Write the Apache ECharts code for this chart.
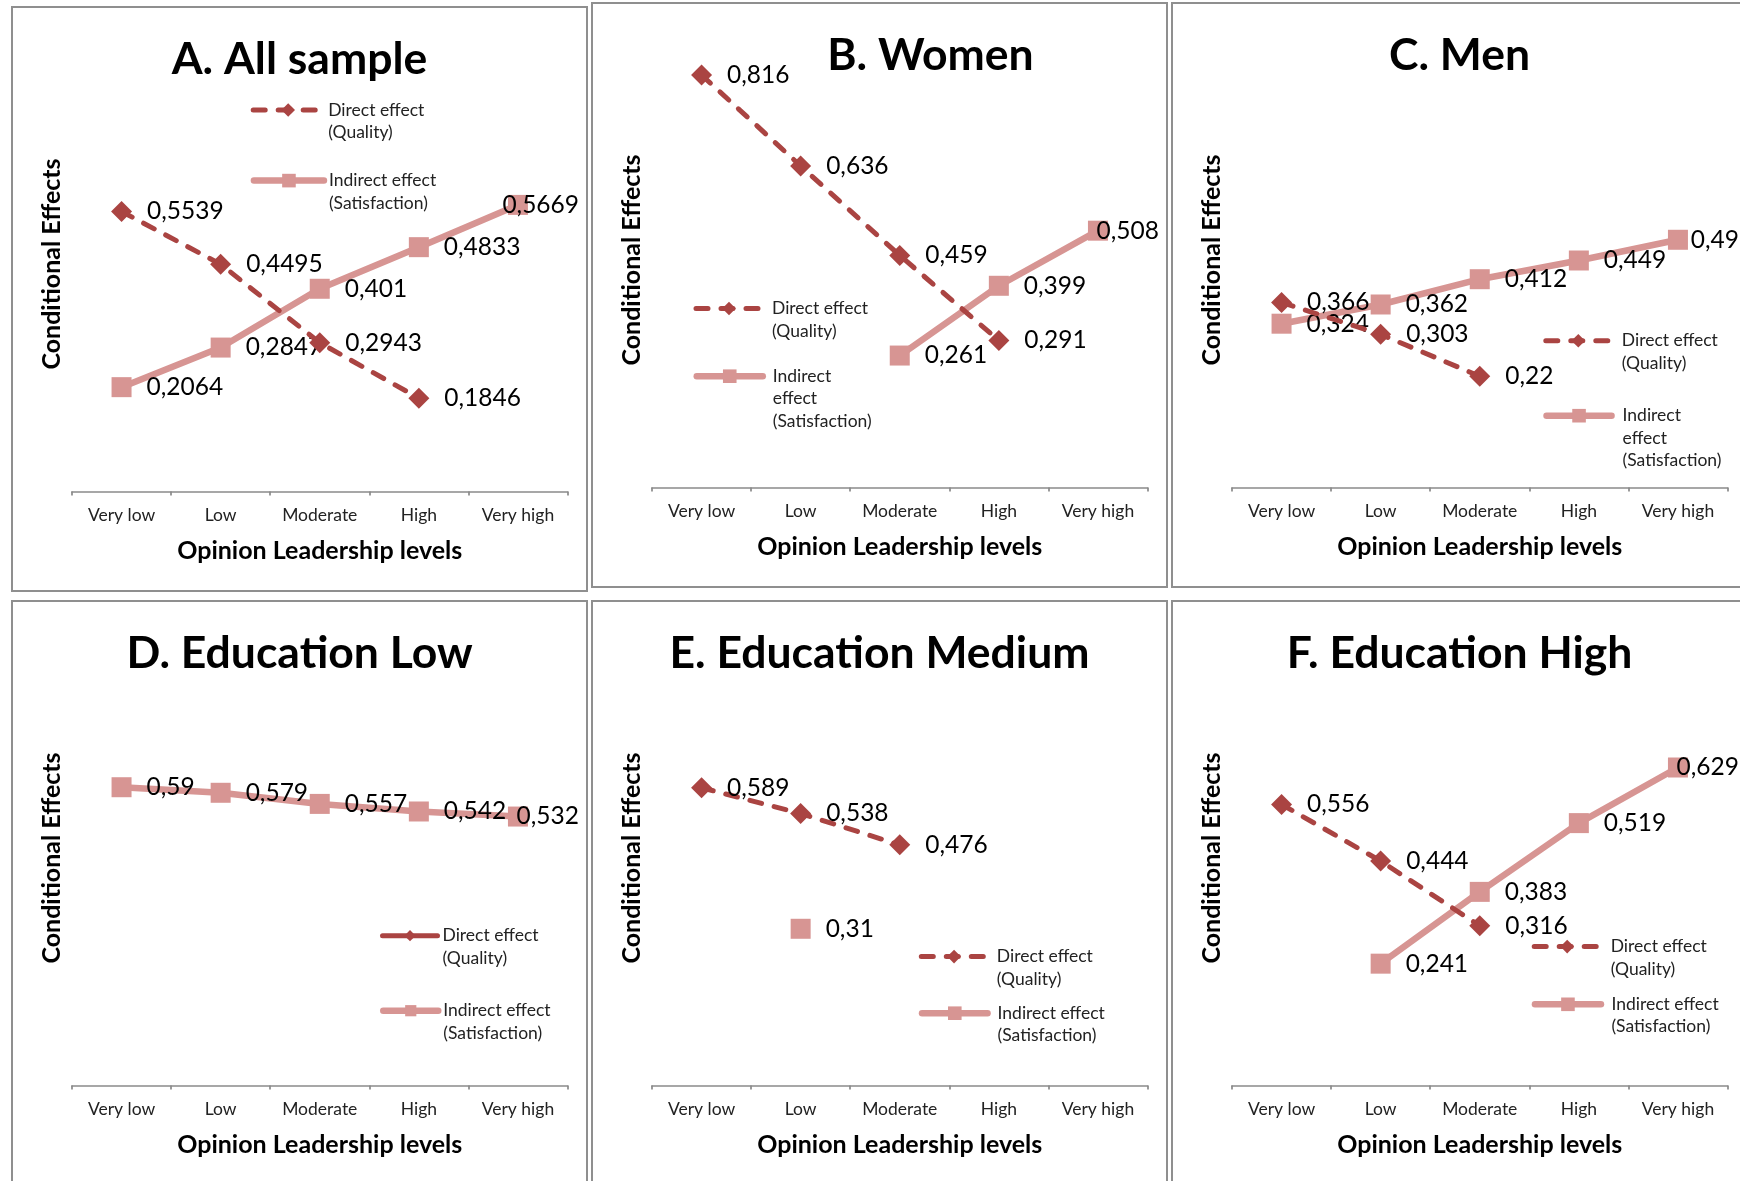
<!DOCTYPE html>
<html>
<head>
<meta charset="utf-8">
<script src="https://cdn.jsdelivr.net/npm/echarts@6/dist/echarts.min.js"></script>
<style>
html,body{margin:0;padding:0;width:1740px;height:1181px;overflow:hidden;background:#fff;}
.panel{position:absolute;box-sizing:border-box;border:2px solid #8f8f8f;background:#fff;}
</style>
</head>
<body>
<script>
// ---------------- DATA ----------------
var categories = ['Very low', 'Low', 'Moderate', 'High', 'Very high'];
var titles = ['A. All sample', 'B. Women', 'C. Men', 'D. Education Low', 'E. Education Medium', 'F. Education High'];
var xAxisName = 'Opinion Leadership levels';
var yAxisName = 'Conditional Effects';
var directName = 'Direct effect\n(Quality)';
var indirectName2 = 'Indirect effect\n(Satisfaction)';
var indirectName3 = 'Indirect\neffect\n(Satisfaction)';

var directA   = [0.5539, 0.4495, 0.2943, 0.1846, null];
var indirectA = [0.2064, 0.2847, 0.401, 0.4833, 0.5669];
var directB   = [0.816, 0.636, 0.459, 0.291, null];
var indirectB = [null, null, 0.261, 0.399, 0.508];
var directC   = [0.366, 0.303, 0.22, null, null];
var indirectC = [0.324, 0.362, 0.412, 0.449, 0.49];
var directD   = [null, null, null, null, null];
var indirectD = [0.59, 0.579, 0.557, 0.542, 0.532];
var directE   = [0.589, 0.538, 0.476, null, null];
var indirectE = [null, 0.31, null, null, null];
var directF   = [0.556, 0.444, 0.316, null, null];
var indirectF = [null, 0.241, 0.383, 0.519, 0.629];

var yMin = 0, yMax = 0.9;

// ---------------- LAYOUT / STYLE ----------------
var DIRECT_COLOR = '#AA4442';
var INDIRECT_COLOR = '#D79593';
var FONT = 'Lato, "Open Sans", sans-serif';
var PANEL_W = 577, PANEL_H = 586, BORDER = 2;
var W = PANEL_W - 2 * BORDER, H = PANEL_H - 2 * BORDER;
var LH = 22.5;
var DIRECT_W = 5, INDIRECT_W = 6.5;
var TITLE_SIZE = 44.5;

var panels = [
  {left: 11,   top: 6,   title: titles[0], titleX: 286.5, direct: directA, indirect: indirectA, indName: indirectName2, directSolid: false,
   leg: {x: 237.7, w: 70,   pad: 0,   ih: 17, dY: 102,   iY: 172.6}},
  {left: 591,  top: 2,   title: titles[1], titleX: 337.5, direct: directB, indirect: indirectB, indName: indirectName3, directSolid: false,
   leg: {x: 100.5, w: 66,   pad: 5,   ih: 17, dY: 304.5, iY: 372.2}},
  {left: 1171, top: 2,   title: titles[2], titleX: 286.5, direct: directC, indirect: indirectC, indName: indirectName3, directSolid: false,
   leg: {x: 370.3, w: 65,   pad: 6,   ih: 17, dY: 336.7, iY: 411.7}},
  {left: 11,   top: 600, title: titles[3], titleX: 286.5, direct: directD, indirect: indirectD, indName: indirectName2, directSolid: true,
   leg: {x: 367,   w: 55,   pad: 0,   ih: 14, dY: 333.7, iY: 408.7}},
  {left: 591,  top: 600, title: titles[4], titleX: 286.5, direct: directE, indirect: indirectE, indName: indirectName2, directSolid: false,
   leg: {x: 325.8, w: 65.5, pad: 5,   ih: 17, dY: 354.6, iY: 411.2}},
  {left: 1171, top: 600, title: titles[5], titleX: 286.5, direct: directF, indirect: indirectF, indName: indirectName2, directSolid: false,
   leg: {x: 358.7, w: 66,   pad: 5.5, ih: 17, dY: 344.6, iY: 402.3}}
];

function fmt(p) { return String(p.value).replace('.', ','); }
function fitLabel(p) {
  var r = p.labelRect;
  var lim = W - 7;
  var over = r.x + r.width - lim;
  return over > 0 ? {dx: -over} : {};
}
function lineCount(s) { return s.split('\n').length; }
function repeatNL(k) { var s = ''; for (var i = 0; i < k; i++) s += '\n'; return s; }

// first text line sits level with the legend key (Excel style)
function legendFor(name, cfg, iconY, lineW) {
  var n = lineCount(name);
  return {
    data: [{name: name}],
    formatter: function (nm) { return repeatNL(lineCount(nm) - 1) + nm; },
    orient: 'vertical',
    left: cfg.x,
    top: iconY - (2 * n - 1) * LH / 2,
    itemWidth: cfg.w,
    itemHeight: cfg.ih,
    padding: 0,
    selectedMode: false,
    lineStyle: {width: lineW},
    textStyle: {fontFamily: FONT, fontSize: 17.5, lineHeight: LH, color: '#222', padding: [0, 0, 0, cfg.pad]}
  };
}

var labelStyle = {show: true, position: 'right', distance: 15, formatter: fmt,
  fontFamily: FONT, fontSize: 24.5, color: '#000'};

panels.forEach(function (p, i) {
  var div = document.createElement('div');
  div.className = 'panel';
  div.style.left = p.left + 'px';
  div.style.top = p.top + 'px';
  div.style.width = PANEL_W + 'px';
  div.style.height = PANEL_H + 'px';
  document.body.appendChild(div);
  var chart = echarts.init(div, null, {renderer: 'canvas', width: W, height: H});
  var gridTop = 28.5, gridH = 455;
  chart.setOption({
    animation: false,
    backgroundColor: '#fff',
    title: {
      text: p.title, left: p.titleX, top: 51.5 - TITLE_SIZE / 2,
      textAlign: 'center',
      padding: 0,
      textStyle: {fontFamily: FONT, fontWeight: 'bold', fontSize: TITLE_SIZE, lineHeight: TITLE_SIZE, color: '#000'}
    },
    legend: [legendFor(directName, p.leg, p.leg.dY, DIRECT_W), legendFor(p.indName, p.leg, p.leg.iY, INDIRECT_W)],
    grid: {left: 59, top: gridTop, width: 495.5, height: gridH, containLabel: false},
    xAxis: {
      type: 'category', data: categories, boundaryGap: true,
      axisLine: {show: true, lineStyle: {color: '#8a8a8a', width: 1.7}},
      axisTick: {show: true, interval: 0, length: 4, lineStyle: {color: '#8a8a8a', width: 1.7}},
      axisLabel: {interval: 0, margin: 14.5, fontFamily: FONT, fontSize: 17.5, color: '#222'},
      splitLine: {show: false},
      name: xAxisName, nameLocation: 'middle', nameGap: 47,
      nameTextStyle: {fontFamily: FONT, fontWeight: 'bold', fontSize: 25, color: '#000'}
    },
    yAxis: {
      type: 'value', min: yMin, max: yMax,
      axisLine: {show: false}, axisTick: {show: false}, axisLabel: {show: false}, splitLine: {show: false},
      name: yAxisName, nameLocation: 'middle', nameGap: 7.5,
      nameTextStyle: {fontFamily: FONT, fontWeight: 'bold', fontSize: 25, color: '#000'}
    },
    series: [
      {
        name: p.indName, type: 'line', data: p.indirect, z: 2,
        symbol: 'rect', symbolSize: 20, showSymbol: true, showAllSymbol: true, connectNulls: false,
        itemStyle: {color: INDIRECT_COLOR},
        lineStyle: {color: INDIRECT_COLOR, width: INDIRECT_W, type: 'solid', cap: 'round'},
        label: labelStyle, labelLayout: fitLabel,
        emphasis: {disabled: true}
      },
      {
        name: directName, type: 'line', data: p.direct, z: 3,
        symbol: 'diamond', symbolSize: 21, showSymbol: true, showAllSymbol: true, connectNulls: false,
        itemStyle: {color: DIRECT_COLOR},
        lineStyle: {color: DIRECT_COLOR, width: DIRECT_W, type: p.directSolid ? 'solid' : [12, 13], cap: 'round'},
        label: labelStyle, labelLayout: fitLabel,
        emphasis: {disabled: true}
      }
    ]
  });
});
</script>
</body>
</html>
